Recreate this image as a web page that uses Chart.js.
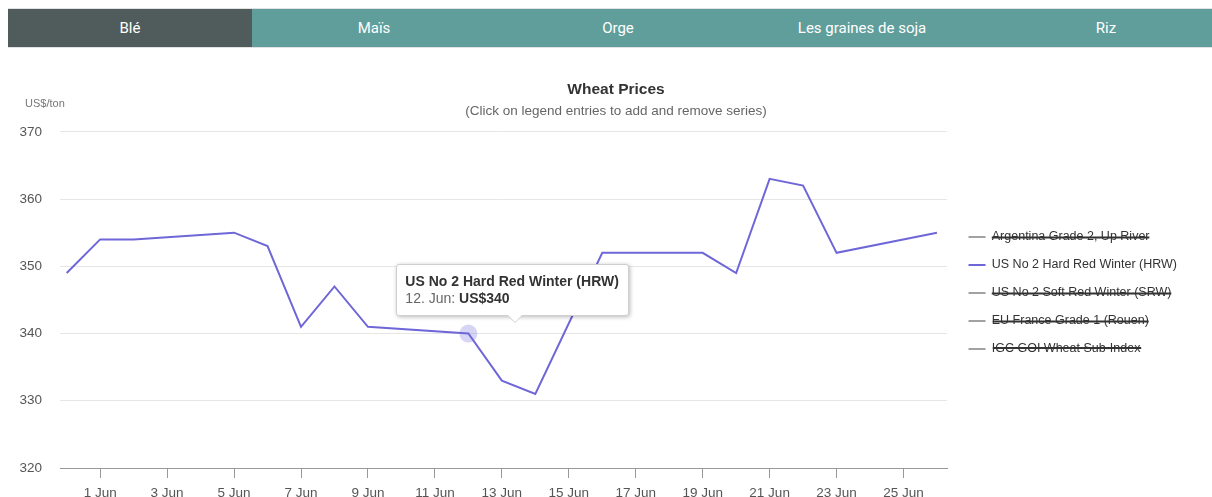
<!DOCTYPE html>
<html>
<head>
<meta charset="utf-8">
<title>Wheat Prices</title>
<script src="https://cdn.jsdelivr.net/npm/chart.js@4.4.1/dist/chart.umd.min.js"></script>
<style>
    html, body { margin: 0; padding: 0; background: #fff; overflow: hidden; }
    body { width: 1212px; height: 497px; position: relative; font-family: "Liberation Sans", Arial, sans-serif; }
    .tabs { position: absolute; left: 8px; top: 8px; width: 1204px; height: 38px; display: flex; overflow: hidden;
            border-top: 1px solid #e2e2e2; border-bottom: 1px solid #e2e2e2; }
    .tab { flex: 0 0 244px; background: #5f9e9b; color: #fff; text-align: center; line-height: 38px;
           font-family: Roboto, sans-serif; font-size: 15px; }
    .tab.active { background: #505c5b; }
    .contenitore { position: absolute; left: 0; top: 60px; width: 1212px; height: 448px; }
    #tip { position: absolute; display: none; background: #fff; border: 1px solid #cfcfcf; border-radius: 3px;
           box-shadow: 1px 1px 4px rgba(0,0,0,0.28); padding: 8px 9px 8px 8px; font-size: 14px; line-height: 17px;
           color: #333; white-space: nowrap; }
    #tip:before, #tip:after { content: ""; position: absolute; left: 111px; border: 7px solid transparent; border-bottom: 0; }
    #tip:before { bottom: -8px; border-top-color: #cfcfcf; }
    #tip:after { bottom: -7px; border-top-color: #fff; }
    #tip .t-title { font-weight: bold; }
    #tip .t-date { color: #666; }
</style>
</head>
<body>
<div class="tabs">
    <div class="tab active">Blé</div>
    <div class="tab">Maïs</div>
    <div class="tab">Orge</div>
    <div class="tab">Les graines de soja</div>
    <div class="tab">Riz</div>
</div>
<div class="contenitore"><canvas id="graphCanvas"></canvas></div>
<div id="tip"><div class="t-title"></div><div><span class="t-date"></span><b class="t-value"></b></div></div>
<script>
// giorni: 0 = 31 May, 1..26 = 1..26 Jun
var dates = [0, 1, 2, 5, 6, 7, 8, 9, 12, 13, 14, 16, 19, 20, 21, 22, 23, 26];
var hrwPrices = [349, 354, 354, 355, 353, 341, 347, 341, 340, 333, 331, 352, 352, 349, 363, 362, 352, 355];
var seriesNames = [
    'Argentina Grade 2, Up River',
    'US No 2 Hard Red Winter (HRW)',
    'US No 2 Soft Red Winter (SRW)',
    'EU France Grade 1 (Rouen)',
    'IGC GOI Wheat Sub-Index'
];
var xTickDays = [1, 3, 5, 7, 9, 11, 13, 15, 17, 19, 21, 23, 25];
var xTickLabels = ['1 Jun', '3 Jun', '5 Jun', '7 Jun', '9 Jun', '11 Jun', '13 Jun', '15 Jun',
                   '17 Jun', '19 Jun', '21 Jun', '23 Jun', '25 Jun'];
var yTicks = [320, 330, 340, 350, 360, 370];
var activeDay = 12;

function dayName(d) {
    return d === 0 ? '31. May' : d + '. Jun';
}

var datasets = seriesNames.map(function (name, i) {
    if (i === 1) {
        return {
            label: name,
            data: dates.map(function (d, j) { return { x: d, y: hrwPrices[j] }; }),
            borderColor: '#6f67d8',
            backgroundColor: '#6f67d8',
            borderWidth: 2,
            pointRadius: 0,
            pointHoverRadius: 9,
            pointHoverBackgroundColor: 'rgba(111,103,216,0.28)',
            pointHoverBorderWidth: 0,
            tension: 0
        };
    }
    return { label: name, data: [], hidden: true, borderColor: '#444', backgroundColor: '#444', borderWidth: 1 };
});

var unitLabel = {
    id: 'unitLabel',
    afterDraw: function (chart) {
        var ctx = chart.ctx;
        ctx.save();
        ctx.font = '11px "Liberation Sans", Arial, sans-serif';
        ctx.fillStyle = '#777';
        ctx.textBaseline = 'middle';
        ctx.fillText('US$/ton', 25, 44);
        ctx.restore();
    }
};

// sposto legenda e titoli dopo il layout
var boxShift = {
    id: 'boxShift',
    afterLayout: function (chart) {
        var lg = chart.legend;
        lg.left += 6; lg.right += 6;
        lg.top += 9; lg.bottom += 9;
        chart.boxes.forEach(function (b) {
            if (b.position === 'top' && b !== lg && !b.axis) {
                b.left += 25.5; b.right += 25.5;
            }
        });
    }
};

function externalTip(context) {
    var tip = context.tooltip;
    var el = document.getElementById('tip');
    if (tip.opacity === 0 || !tip.dataPoints || !tip.dataPoints.length) {
        el.style.display = 'none';
        return;
    }
    var dp = tip.dataPoints[0];
    el.querySelector('.t-title').textContent = dp.dataset.label;
    el.querySelector('.t-date').textContent = dayName(dp.raw.x) + ': ';
    el.querySelector('.t-value').textContent = 'US$' + dp.raw.y;
    var canvas = context.chart.canvas;
    el.style.display = 'block';
    el.style.left = (canvas.offsetLeft + canvas.parentNode.offsetLeft + tip.caretX - 72) + 'px';
    el.style.top = (canvas.offsetTop + canvas.parentNode.offsetTop + tip.caretY - 70) + 'px';
}

var chart = new Chart(document.getElementById('graphCanvas'), {
    type: 'line',
    data: { datasets: datasets },
    plugins: [unitLabel, boxShift],
    options: {
        animation: false,
        responsive: true,
        maintainAspectRatio: false,
        layout: { padding: { left: 0, right: 31, top: 0, bottom: 0 } },
        interaction: { mode: 'nearest', intersect: false },
        plugins: {
            title: {
                display: true,
                text: 'Wheat Prices',
                color: '#333',
                font: { family: '"Liberation Sans", Arial, sans-serif', size: 15.5, weight: 'bold' },
                padding: { top: 20, bottom: 3 }
            },
            subtitle: {
                display: true,
                text: '(Click on legend entries to add and remove series)',
                color: '#666',
                font: { family: '"Liberation Sans", Arial, sans-serif', size: 13.5 },
                padding: { top: 2, bottom: 12 }
            },
            legend: {
                position: 'right',
                align: 'center',
                labels: {
                    usePointStyle: true,
                    pointStyle: 'line',
                    pointStyleWidth: 17,
                    padding: 15.5,
                    color: '#333',
                    font: { family: '"Liberation Sans", Arial, sans-serif', size: 12.5 }
                }
            },
            tooltip: { enabled: false, external: externalTip }
        },
        scales: {
            x: {
                type: 'linear',
                min: -0.2,
                max: 26.3,
                afterBuildTicks: function (scale) {
                    scale.ticks = xTickDays.map(function (d) { return { value: d }; });
                },
                afterFit: function (scale) { scale.height = 40; },
                grid: { drawOnChartArea: false, tickLength: 10, color: '#999' },
                border: { display: true, color: '#999', width: 1 },
                ticks: {
                    autoSkip: false,
                    maxRotation: 0,
                    padding: 7,
                    color: '#555',
                    font: { family: '"Liberation Sans", Arial, sans-serif', size: 13.5 },
                    callback: function (value) { return xTickLabels[xTickDays.indexOf(value)]; }
                }
            },
            y: {
                min: 320,
                max: 370,
                afterBuildTicks: function (scale) {
                    scale.ticks = yTicks.map(function (v) { return { value: v }; });
                },
                afterFit: function (scale) { scale.width = 60; },
                grid: { color: '#e6e6e6', drawTicks: false },
                border: { display: false },
                ticks: {
                    padding: 18,
                    color: '#555',
                    font: { family: '"Liberation Sans", Arial, sans-serif', size: 13.5 }
                }
            }
        }
    }
});

var activeIndex = dates.indexOf(activeDay);
var pt = chart.getDatasetMeta(1).data[activeIndex];
chart.setActiveElements([{ datasetIndex: 1, index: activeIndex }]);
chart.tooltip.setActiveElements([{ datasetIndex: 1, index: activeIndex }], { x: pt.x, y: pt.y });
chart.update();
</script>
</body>
</html>
